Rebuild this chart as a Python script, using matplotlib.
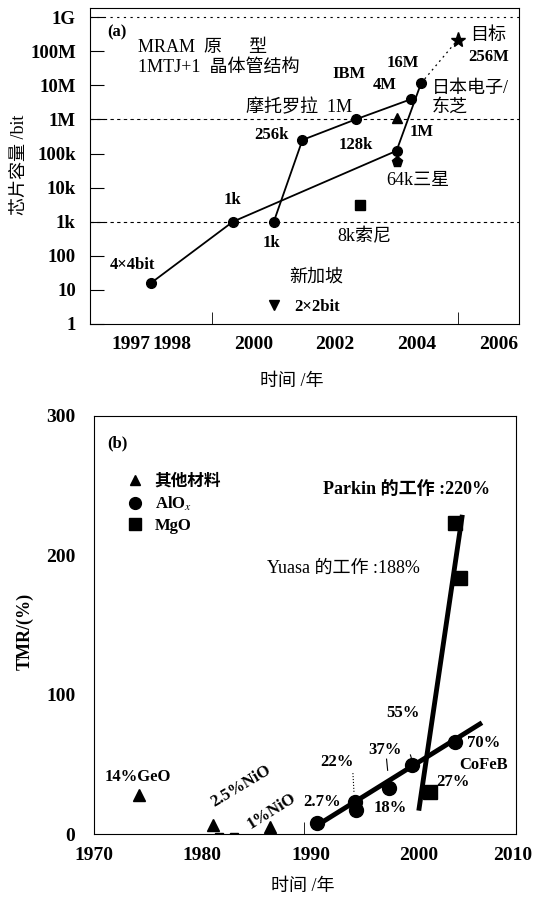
import numpy as np
import matplotlib
matplotlib.use('Agg')
import matplotlib.pyplot as plt
from matplotlib.ticker import FixedLocator

plt.rcParams['font.family'] = ['Liberation Serif', 'Noto Sans CJK SC']
plt.rcParams['mathtext.fontset'] = 'stix'
plt.rcParams['font.size'] = 12

# ---- panel (a): MRAM chip capacity ----
line1_year = [1997.5, 1999.5, 2003.5, 2004.1]
line1_bits = [16, 1e3, 1.2e5, 1.15e7]
line2_year = [2000.5, 2001.2, 2002.5, 2003.85]
line2_bits = [1e3, 2.5e5, 1e6, 3.9e6]
samsung_year, samsung_bits = 2003.5, 5.5e4
target_year, target_bits = 2005.0, 2.2e8
tri_year, tri_bits = 2003.5, 1.1e6
sony_year, sony_bits = 2002.6, 3e3
sing_year, sing_bits = 2000.5, 3.5
ref_levels = [1e9, 1e6, 1e3]
cap_ticks = [1, 10, 100, 1e3, 1e4, 1e5, 1e6, 1e7, 1e8, 1e9]
cap_labels = ['1', '10', '100', '1k', '10k', '100k', '1M', '10M', '100M', '1G']
year_ticks_a = [1997, 1998, 2000, 2002, 2004, 2006]

# ---- panel (b): TMR ratio ----
other_year = [1974.2, 1981.0, 1986.3]
other_tmr = [28.3, 6.8, 5.6]
alox_year = [1990.6, 1994.1, 1994.2, 1997.2, 1999.3, 2003.3]
alox_tmr = [8.0, 23.5, 17.6, 33.1, 49.8, 66.5]
alox_fit_year = [1990.4, 2005.6]
alox_fit_tmr = [5.6, 79.2]
mgo_year = [2001.0, 2003.8, 2003.3]
mgo_tmr = [30.7, 183.7, 223.5]
mgo_fit_year = [2000.0, 2003.95]
mgo_fit_tmr = [18.8, 227.4]
hidden_year = [1981.6, 1982.9]
hidden_tmr = [-2.0, -2.0]
year_ticks_b = [1970, 1980, 1990, 2000]
last_year_label = '2010'
tmr_ticks = [0, 100, 200, 300]

TICK = 14
LAT = 12
CJK = 13
B = dict(fontweight='bold')

fig = plt.figure(figsize=(5.39, 8.97), dpi=100)

ax = fig.add_axes([0.1664, 0.6388, 0.7970, 0.3520])
ax.set_yscale('log')
ax.set_xlim(1996, 2006.5)
ax.set_ylim(1, 10 ** 9.26)
for lv, ls in zip(ref_levels, [(0, (2, 4)), (0, (3, 3)), (0, (3, 3))]):
    ax.axhline(lv, color='k', lw=0.8, linestyle=ls)
ax.plot(line1_year, line1_bits, 'k-o', lw=1.3, ms=7)
ax.plot(line2_year, line2_bits, 'k-o', lw=1.3, ms=7)
ax.plot([samsung_year], [samsung_bits], 'kp', ms=8)
ax.plot([line1_year[-1], target_year], [line1_bits[-1], target_bits], 'k', lw=0.9, linestyle=(0, (1.5, 3)))
ax.plot([target_year], [target_bits], 'k*', ms=11)
ax.plot([tri_year], [tri_bits], 'k^', ms=7)
ax.plot([sony_year], [sony_bits], 'ks', ms=7)
ax.plot([sing_year], [sing_bits], 'kv', ms=7)

ax.set_yticks(cap_ticks)
ax.set_yticklabels(cap_labels, fontweight='bold')
ax.yaxis.set_minor_locator(FixedLocator([]))
ax.tick_params(axis='y', direction='in', length=10, pad=10, labelsize=TICK - 0.5)
ax.set_xticks(year_ticks_a)
ax.set_xticklabels([str(y) for y in year_ticks_a], fontweight='bold')
ax.tick_params(axis='x', which='major', length=0, pad=9, labelsize=TICK)
ax.xaxis.set_minor_locator(FixedLocator([1997, 1999, 2000, 2002, 2005]))
ax.tick_params(axis='x', which='minor', direction='in', length=9)
ax.set_xlabel('时间 /年', fontsize=CJK)
ax.xaxis.set_label_coords(0.471, -0.182)
ax.xaxis.label.set_va('center')
ax.set_ylabel('芯片容量 /bit', fontsize=CJK)
ax.yaxis.set_label_coords(-0.163, 0.504)
ax.yaxis.label.set_va('center')

def lt(a, x, logy, s, size=LAT, **kw):
    kw.setdefault('ha', 'center')
    kw.setdefault('va', 'center')
    a.text(x, 10 ** logy, s, fontsize=size, **kw)

lt(ax, 1996.42, 8.56, '(a)', ha='left', **B)
lt(ax, 1997.17, 8.12, 'MRAM  原      型', size=CJK, ha='left')
lt(ax, 1997.17, 7.51, '1MTJ+1  晶体管结构', size=CJK, ha='left')
lt(ax, 2002.34, 7.33, 'IBM', **B)
lt(ax, 2003.66, 7.65, '16M', **B)
lt(ax, 2003.22, 7.01, '4M', **B)
lt(ax, 2005.3, 8.47, '目标', size=CJK, ha='left')
lt(ax, 2005.74, 7.82, '256M', **B)
lt(ax, 2004.36, 6.91, '日本电子/', size=CJK, ha='left')
lt(ax, 2004.36, 6.37, '东芝', size=CJK, ha='left')
lt(ax, 1999.82, 6.36, '摩托罗拉  1M', size=CJK, ha='left')
lt(ax, 2003.83, 5.64, '1M', ha='left', **B)
lt(ax, 2000.45, 5.54, '256k', **B)
lt(ax, 2002.5, 5.25, '128k', **B)
lt(ax, 2003.26, 4.22, '64k三星', size=CJK, ha='left')
lt(ax, 1999.5, 3.64, '1k', **B)
lt(ax, 2000.45, 2.37, '1k', **B)
lt(ax, 2002.71, 2.56, '8k索尼', size=CJK)
lt(ax, 1997.04, 1.73, '4×4bit', **B)
lt(ax, 2001.54, 1.39, '新加坡', size=CJK)
lt(ax, 2000.99, 0.51, '2×2bit', ha='left', **B)

# ---- panel (b) ----
bx = fig.add_axes([0.1735, 0.0697, 0.7833, 0.4666])
bx.set_xlim(1970, 2008.9)
bx.set_ylim(0, 300)
bx.plot(alox_fit_year, alox_fit_tmr, 'k-', lw=3.5)
bx.plot(mgo_fit_year, mgo_fit_tmr, 'k-', lw=3.5)
bx.plot(other_year, other_tmr, 'k^', ms=9, ls='none', label='其他材料')
bx.plot(alox_year, alox_tmr, 'ko', ms=10, ls='none', label='AlO$_x$')
bx.plot(mgo_year, mgo_tmr, 'ks', ms=10, ls='none', label='MgO')
bx.plot(hidden_year, hidden_tmr, 'ks', ms=6, ls='none')

bx.set_yticks(tmr_ticks)
bx.set_yticklabels([str(t) for t in tmr_ticks], fontweight='bold')
bx.tick_params(axis='y', length=0, pad=13, labelsize=TICK)
bx.set_xticks(year_ticks_b)
bx.set_xticklabels([str(y) for y in year_ticks_b], fontweight='bold')
bx.tick_params(axis='x', which='major', length=0, pad=9, labelsize=TICK)
bx.xaxis.set_minor_locator(FixedLocator([1989.4]))
bx.tick_params(axis='x', which='minor', direction='in', length=9)
# the last year label sits just past the right spine
bx.text(2010.45, -0.03, last_year_label, ha='right', va='top', fontsize=TICK,
        fontweight='bold', transform=bx.get_xaxis_transform(), clip_on=False)
bx.set_xlabel('时间 /年', fontsize=CJK)
bx.xaxis.set_label_coords(0.495, -0.125)
bx.xaxis.label.set_va('center')
bx.set_ylabel('TMR/(%)', fontsize=CJK, fontweight='bold')
bx.yaxis.set_label_coords(-0.162, 0.484)
bx.yaxis.label.set_va('center')

leg = bx.legend(loc='upper left', bbox_to_anchor=(0.062, 0.882), frameon=False,
                handlelength=0.8, handletextpad=0.8, labelspacing=0.3,
                borderpad=0, prop={'size': LAT, 'weight': 'bold'}, markerscale=0.85)

bx.text(1972.16, 280.4, '(b)', ha='center', va='center', fontsize=LAT, **B)
bx.text(1991.17, 247.5, 'Parkin 的工作 :220%', ha='left', va='center', fontsize=CJK, **B)
bx.text(1985.94, 190.8, 'Yuasa 的工作 :188%', ha='left', va='center', fontsize=CJK)
for x, y, s in [(1998.55, 86.9, '55%'), (1996.87, 60.6, '37%'), (1992.41, 52.2, '22%'),
                (1991.06, 23.5, '2.7%'), (1997.33, 18.8, '18%'), (2005.9, 65.4, '70%'),
                (2005.9, 49.8, 'CoFeB'), (2003.16, 37.8, '27%'), (1974.06, 41.4, '14%GeO')]:
    bx.text(x, y, s, ha='center', va='center', fontsize=LAT, **B)
bx.text(1983.57, 34.3, '2.5%NiO', ha='center', va='center', rotation=31, fontsize=LAT, **B)
bx.text(1986.42, 16.8, '1%NiO', ha='center', va='center', rotation=32, fontsize=LAT, **B)
# small leaders
bx.plot([1993.9, 1994.0], [44, 30], 'k', lw=0.8, ls=':')
bx.plot([1997.0, 1997.1], [54, 46], 'k', lw=0.8)
bx.plot([1999.2, 1999.35], [57, 53], 'k', lw=0.8)

fig.savefig('out.png', dpi=100)
